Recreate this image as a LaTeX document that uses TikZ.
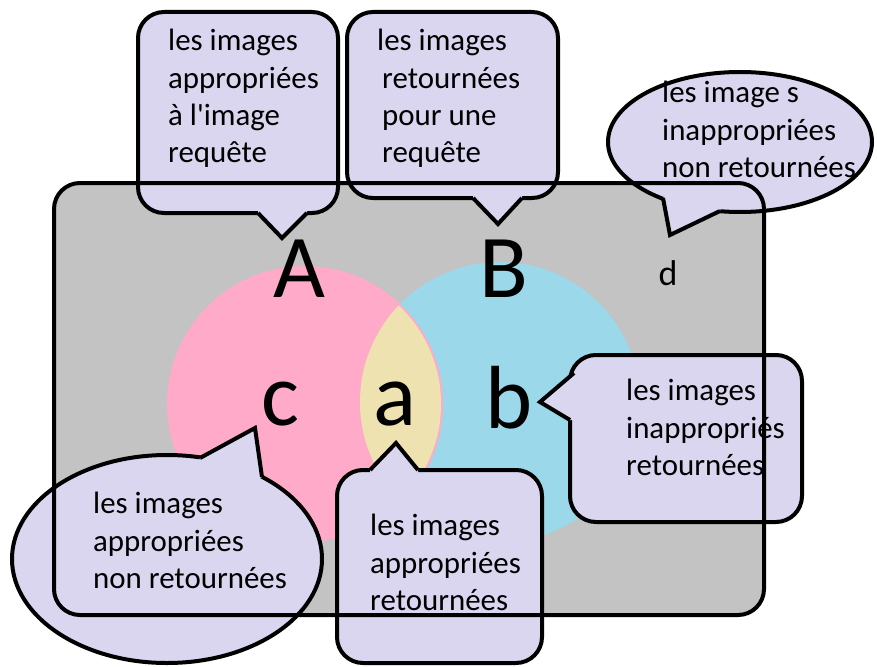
\documentclass[tikz,border=0pt]{standalone}
\usepackage{fontspec}
\setmainfont{Carlito}
\usetikzlibrary{shapes.geometric}
\definecolor{monGris}{RGB}{195,195,195}
\definecolor{monRose}{RGB}{255,170,200}
\definecolor{monBleu}{RGB}{155,216,234}
\definecolor{monJaune}{RGB}{238,226,176}
\definecolor{monLavande}{RGB}{218,214,239}
\newcommand{\policeBulle}{\fontsize{31}{37.5}\selectfont}
\newcommand{\policeLettre}{\fontsize{90}{100}\selectfont}

\tikzset{
  trait/.style={draw=black, line width=4bp},
  bulle/.style={trait, fill=monLavande, inner sep=0pt},
  bulleRect/.style={bulle, rectangle, rounded corners=26bp},
  bulleOvale/.style={bulle, ellipse},
  fondPointe/.style={fill=monLavande, draw=none},
  texteBulle/.style={font=\policeBulle, align=left, anchor=north west, inner sep=0pt},
  lettre/.style={font=\policeLettre, anchor=base, inner sep=0pt},
}

\begin{document}
\begin{tikzpicture}[x=1bp,y=-1bp]
        % Fond et cadre
        \useasboundingbox[fill=white] (0,0) rectangle (877,667);
        \fill[monGris, rounded corners=26bp] (54,183) rectangle (764,615);

        % Ensembles A et B
        \coordinate (cA) at (305,404);
        \coordinate (cB) at (500,402);
        \fill[monBleu] (cB) circle (140);
        \fill[monRose] (cA) circle (138);
        \begin{scope}
            \clip (cA) circle (136);
            \fill[monJaune] (cB) circle (140);
        \end{scope}

        % Lettres
        \node[lettre] (A) at (299,297) {A};
        \node[lettre] (B) at (504,297) {B};
        \node[lettre] (c) at (280,425) {c};
        \node[lettre] (a) at (395,425) {a};
        \node[lettre] (b) at (509,428) {b};
        \node[font=\fontsize{36}{40}\selectfont, anchor=base, inner sep=0pt] (d) at (668,285) {d};

        % Bulle de A
        \node[bulleRect, minimum width=200bp, minimum height=201bp] (bulleA) at (238,112.5) {};
        \coordinate (pointeA) at (282,238);
        \path[fondPointe] (258,200) -- (258,213) -- (pointeA) -- (307,213) -- (307,200) -- cycle;
        \draw[trait] (258,213) -- (pointeA) -- (307,213);
        \node[texteBulle] (texteA) at (168,29) {les images\\appropriées\\à l\textquotesingle image\\requête};

        % Bulle de B
        \node[bulleRect, minimum width=211bp, minimum height=186bp] (bulleB) at (452.5,105) {};
        \coordinate (pointeB) at (498,224);
        \path[fondPointe] (473,185) -- (473,198) -- (pointeB) -- (522,198) -- (522,185) -- cycle;
        \draw[trait] (473,198) -- (pointeB) -- (522,198);
        \node[texteBulle] (texteB) at (377,29) {les images\\\hspace*{5bp}retournées\\\hspace*{5bp}pour une\\\hspace*{5bp}requête};

        % Bulle de d
        \node[bulleOvale, minimum width=264bp, minimum height=140bp] (bulled) at (740,142) {};
        \coordinate (pointed) at (670,235);
        \path[fondPointe] (740,142) -- (663,198) -- (pointed) -- (720,211) -- cycle;
        \draw[trait] (663,198) -- (pointed) -- (720,211);
        \node[texteBulle] (texted) at (662,81) {les image s\\inappropriées\\non retournées};

        % Bulle de c
        \node[bulleOvale, minimum width=310bp, minimum height=208bp] (bullec) at (167,559) {};
        \coordinate (pointec) at (255,428);
        \path[fondPointe] (167,559) -- (200,458) -- (pointec) -- (262,477) -- cycle;
        \draw[trait] (200,458) -- (pointec) -- (262,477);
        \node[texteBulle] (textec) at (93,492) {les images\\appropriées\\non retournées};

        % Bulle de a
        \node[bulleRect, minimum width=205bp, minimum height=193bp] (bullea) at (439.5,566.5) {};
        \coordinate (pointea) at (396,443);
        \path[fondPointe] (370,483) -- (370,470) -- (pointea) -- (418,470) -- (418,483) -- cycle;
        \draw[trait] (370,470) -- (pointea) -- (418,470);
        \node[texteBulle] (textea) at (370,514) {les images\\appropriées\\retournées};

        % Bulle de b
        \node[bulleRect, minimum width=232bp, minimum height=167bp] (bulleb) at (686,438.5) {};
        \coordinate (pointeb) at (540,402);
        \path[fondPointe] (587,373) -- (574,373) -- (pointeb) -- (570,420) -- (583,420) -- cycle;
        \draw[trait] (574,373) -- (pointeb) -- (570,420);
        \node[texteBulle] (texteb) at (626,379) {les images\\inappropriés\\retournées};

        % Contour du cadre par-dessus
        \draw[trait, rounded corners=26bp] (54,183) rectangle (764,615);
    \end{tikzpicture}
\end{document}
